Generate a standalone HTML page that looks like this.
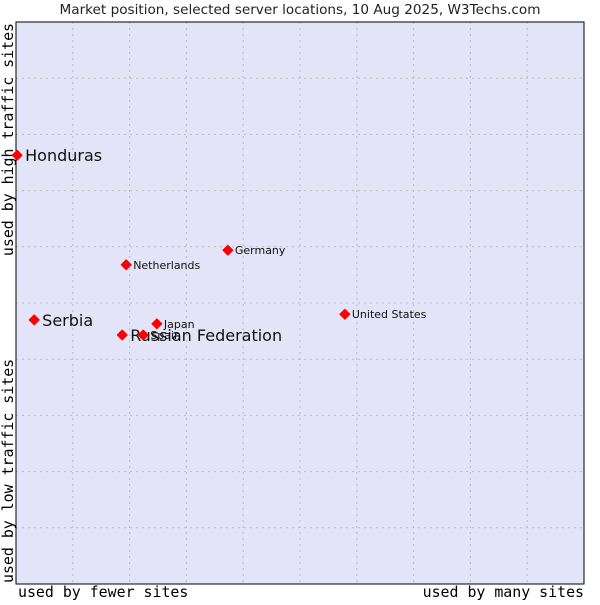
<!DOCTYPE html>
<html><head><meta charset="utf-8"><style>
body{margin:0;background:#fff;width:600px;height:600px;overflow:hidden}
svg text{font-family:"DejaVu Sans","Liberation Sans",sans-serif}
.mono{font-family:"DejaVu Sans Mono","Liberation Mono",monospace}
</style></head><body>
<svg id="chart" width="600" height="600">
<rect x="0" y="0" width="600" height="600" fill="#fff"/>
<text x="300" y="14" text-anchor="middle" font-size="13.6" fill="#222">Market position, selected server locations, 10 Aug 2025, W3Techs.com</text>
<rect x="16" y="22" width="568" height="562" fill="#e3e4f8"/>
<g id="grid"></g>
<rect x="16" y="22" width="568" height="562" fill="none" stroke="#000" stroke-width="1"/>
<text class="mono" x="18" y="597" font-size="14.9" fill="#000">used by fewer sites</text>
<text class="mono" x="584" y="597" font-size="14.9" text-anchor="end" fill="#000">used by many sites</text>
<text class="mono" transform="translate(13,583) rotate(-90)" font-size="14.9" fill="#000">used by low traffic sites</text>
<text class="mono" transform="translate(13,23) rotate(-90)" font-size="14.9" text-anchor="end" fill="#000">used by high traffic sites</text>
<g id="points"></g>
</svg>
<script>
const names=["Honduras","Serbia","Russian Federation","Spain","Japan","Netherlands","Germany","United States"];
const xVals=[0.2,3.2,18.7,22.4,24.8,19.4,37.3,57.9];
const yVals=[76.3,47.0,44.3,44.3,46.3,56.8,59.4,48.0];
const big=[true,true,true,false,false,false,false,false];
const NS="http://www.w3.org/2000/svg";
const X0=16,X1=584,Y0=584,Y1=22;
function sx(v){return X0+(X1-X0)*v/100;}
function sy(v){return Y0-(Y0-Y1)*v/100;}
const grid=document.getElementById('grid');
for(let i=1;i<10;i++){
  let l=document.createElementNS(NS,'line');
  l.setAttribute('x1',sx(i*10));l.setAttribute('x2',sx(i*10));l.setAttribute('y1',Y1);l.setAttribute('y2',Y0);
  l.setAttribute('stroke','#bbbbbb');l.setAttribute('stroke-dasharray','2,4');
  
  
  grid.appendChild(l);
  let h=document.createElementNS(NS,'line');
  h.setAttribute('x1',X0);h.setAttribute('x2',X1);h.setAttribute('y1',sy(i*10));h.setAttribute('y2',sy(i*10));
  h.setAttribute('stroke','#bbbbbb');h.setAttribute('stroke-dasharray','2,4');
  
  
  grid.appendChild(h);
}
const pts=document.getElementById('points');
names.forEach((n,i)=>{
  const x=sx(xVals[i]),y=sy(yVals[i]);
  const d=document.createElementNS(NS,'path');
  d.setAttribute('d',`M${x} ${y-5}L${x+5} ${y}L${x} ${y+5}L${x-5} ${y}Z`);
  d.setAttribute('fill','#f00');
  d.setAttribute('stroke','#f00');d.setAttribute('stroke-width','1');d.setAttribute('stroke-linejoin','round');
  
  
  pts.appendChild(d);
  const t=document.createElementNS(NS,'text');
  t.setAttribute('x',x+(big[i]?8:7));t.setAttribute('y',y+(big[i]?6:4));
  t.setAttribute('font-size',big[i]?16:11);t.setAttribute('fill','#111');
  t.textContent=n;
  
  
  pts.appendChild(t);
});
</script>
</body></html>
